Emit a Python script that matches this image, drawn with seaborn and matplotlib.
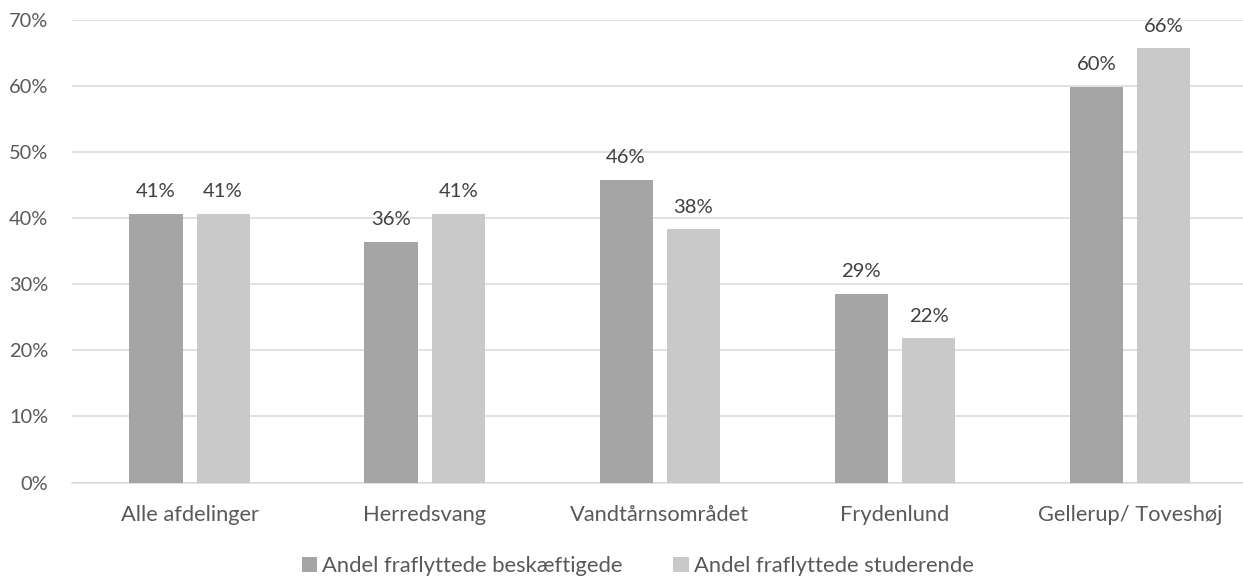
import matplotlib
matplotlib.use("Agg")
import matplotlib.pyplot as plt
from matplotlib.ticker import PercentFormatter
from matplotlib.patches import Patch
import pandas as pd
import seaborn as sns

# Data: share of residents moving out, by housing department (percent)
departments = ["Alle afdelinger", "Herredsvang", "Vandtårnsområdet", "Frydenlund", "Gellerup/ Toveshøj"]
series_names = ["Andel fraflyttede beskæftigede", "Andel fraflyttede studerende"]
employed = [40.7, 36.4, 45.8, 28.6, 59.9]
students = [40.7, 40.6, 38.3, 21.8, 65.7]
y_ticks = [0, 10, 20, 30, 40, 50, 60, 70]

colors = ["#A5A5A5", "#C9C9C9"]
text_dark = "#404040"
text_axis = "#595959"
grid_col = "#D9D9D9"

df = pd.DataFrame({
    "Afdeling": departments * 2,
    "Serie": [series_names[0]] * len(departments) + [series_names[1]] * len(departments),
    "Andel": employed + students,
})

sns.set_theme(style="white")
plt.rcParams["font.family"] = ["Lato", "DejaVu Sans"]

W, H = 1243, 577
fig = plt.figure(figsize=(W / 100, H / 100), dpi=100)
renderer = fig.canvas.get_renderer()


def size_for_width(text, width_px):
    """Font size (pt) that makes `text` about `width_px` pixels wide."""
    t = fig.text(0, 0, text, fontsize=10)
    w = t.get_window_extent(renderer).width
    t.remove()
    return 10 * width_px / w


fs_legend = size_for_width(series_names[0], 301)
fs_cat = size_for_width(departments[0], 138)
fs_tick = size_for_width("70%", 39)
fs_value = size_for_width("41%", 40)

# plot area: 72 px left margin, 0 % at y=482.5, 70 % at y=20
ax = fig.add_axes([72 / W, 1 - 482.5 / H, 1175.5 / W, (482.5 - 20) / H])
ax.set_clip_on(False)

sns.barplot(data=df, x="Afdeling", y="Andel", hue="Serie", palette=colors,
            width=0.572, gap=0.209, saturation=1, legend=False, ax=ax,
            errorbar=None, linewidth=0, zorder=3)

ax.set_xlim(-0.5, len(departments) - 0.5)
ax.set_ylim(0, 70)
ax.set_yticks(y_ticks)
ax.yaxis.set_major_formatter(PercentFormatter(xmax=100, decimals=0))
ax.grid(axis="y", color=grid_col, linewidth=1.1, zorder=0)
ax.set_axisbelow(True)
for side in ["top", "right", "left"]:
    ax.spines[side].set_visible(False)
ax.spines["bottom"].set_color(grid_col)
ax.spines["bottom"].set_linewidth(1.1)
ax.set_xlabel("")
ax.set_ylabel("")
ax.tick_params(axis="y", length=0, pad=17, labelsize=fs_tick, labelcolor=text_axis)
ax.tick_params(axis="x", length=0, pad=16, labelsize=fs_cat, labelcolor=text_axis)

for container in ax.containers:
    ax.bar_label(container, labels=[f"{v:.0f}%" for v in container.datavalues],
                 padding=10, fontsize=fs_value, color=text_dark)

handles = [Patch(facecolor=c, edgecolor="none") for c in colors]
marker_pt = 15.7 * 72 / 100
fig.legend(handles, series_names, loc="center left",
           bbox_to_anchor=(301.7 / W, 1 - 566 / H),
           ncol=2, frameon=False, fontsize=fs_legend, labelcolor=text_axis,
           borderpad=0, borderaxespad=0,
           handlelength=marker_pt / fs_legend, handleheight=marker_pt / fs_legend,
           handletextpad=(5 * 72 / 100) / fs_legend,
           columnspacing=(50 * 72 / 100) / fs_legend)

fig.savefig("out.png", dpi=100)
